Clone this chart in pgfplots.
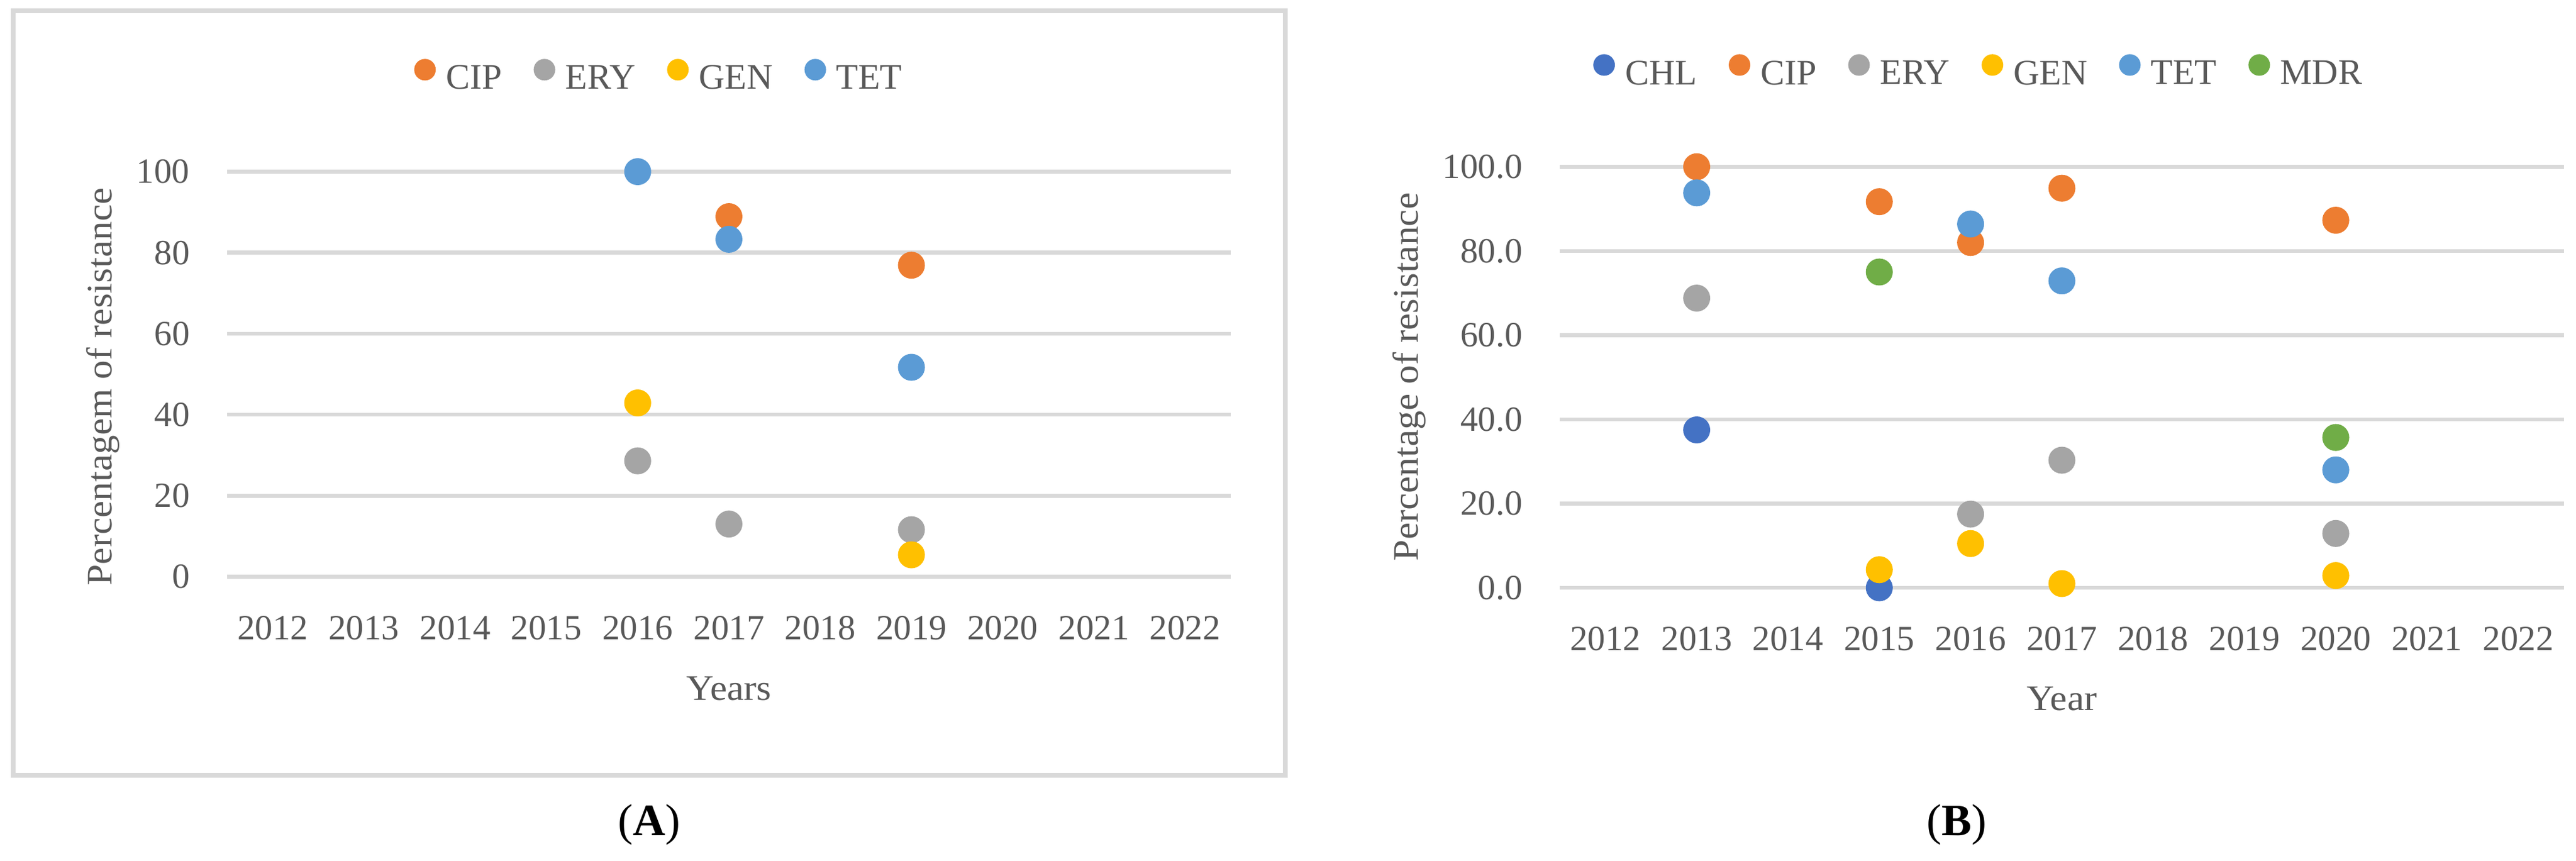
\documentclass[border=0pt]{standalone}
\usepackage{fontspec}
\setmainfont{Liberation Serif}
\newfontfamily\lblfont{Liberation Serif}[FakeStretch=1.06]
\usepackage{pgfplots}
\pgfplotsset{compat=1.18}
\definecolor{gridg}{HTML}{D9D9D9}
\definecolor{txtg}{HTML}{595959}
\definecolor{cCHL}{HTML}{4472C4}
\definecolor{cCIP}{HTML}{ED7D31}
\definecolor{cERY}{HTML}{A5A5A5}
\definecolor{cGEN}{HTML}{FFC000}
\definecolor{cTET}{HTML}{5B9BD5}
\definecolor{cMDR}{HTML}{70AD47}
\pgfplotsset{
  excel/.style={
    scale only axis,
    anchor=south west,
    clip=false,
    axis line style={draw=none},
    tick style={draw=none},
    major tick length=0pt,
    ymajorgrids,
    major grid style={color=gridg, line width=1.3pt},
    xmin=2011.5, xmax=2022.5,
    ymin=0, ymax=100,
    xtick={2012,2013,2014,2015,2016,2017,2018,2019,2020,2021,2022},
    xticklabels={2012,2013,2014,2015,2016,2017,2018,2019,2020,2021,2022},
    ytick={0,20,40,60,80,100},
    /pgf/number format/assume math mode=true,
    tick label style={text=txtg, inner sep=0pt, font=\fontsize{11.8}{14}\selectfont},
    xticklabel style={anchor=north, yshift=-12.9pt},
    yticklabel style={anchor=east, xshift=-12.3pt},
    label style={text=txtg, inner sep=0pt, font=\fontsize{12}{14}\selectfont\lblfont},
    legend style={draw=none, fill=none, inner sep=0pt, outer sep=0pt,
      anchor=center, text=txtg,
      nodes={inner sep=0pt},
      /tikz/every even column/.append style={column sep=10.6pt},
      /tikz/every odd column/.append style={column sep=3.4pt}},
    legend columns=-1,
    legend image code/.code={\fill (0pt,3.3pt) circle (3.4pt);},
  },
  pt/.style={only marks, mark=*, mark size=4.3pt, color=#1, mark options={draw=none, fill=#1}},
}
\begin{document}
\begin{tikzpicture}[font=\fontsize{12}{14}\selectfont, text=txtg]
\path[use as bounding box] (0pt,0pt) rectangle (859.8pt,287.2pt);
\draw[line width=1.6pt, color=gridg] (4.4pt,28.4pt) rectangle (429pt,283.6pt);
% Panel A
\begin{axis}[excel,
  at={(75.8pt,94.7pt)}, width=335pt, height=135.2pt,
  xlabel={Years},
  xlabel style={at={(axis description cs:0.5,0)}, anchor=north, yshift=-33.1pt},
  ylabel={Percentagem of resistance},
  ylabel style={at={(axis description cs:-0.1236,0.4689)}, anchor=center, rotate=0},
  legend style={at={(0.4295,1.2354)}},
]
\addplot[pt=cCIP] coordinates {(2017,88.9) (2019,76.9)};
\addlegendentry{CIP}
\addplot[pt=cERY] coordinates {(2016,28.6) (2017,13.0) (2019,11.6)};
\addlegendentry{ERY}
\addplot[pt=cGEN] coordinates {(2016,42.9) (2019,5.4)};
\addlegendentry{GEN}
\addplot[pt=cTET] coordinates {(2016,100.0) (2017,83.3) (2019,51.7)};
\addlegendentry{TET}
\end{axis}
% Panel B
\begin{axis}[excel,
  at={(520.6pt,91pt)}, width=335.2pt, height=140.54pt,
  yticklabels={0.0,20.0,40.0,60.0,80.0,100.0},
  xlabel={Year},
  xlabel style={at={(axis description cs:0.5,0)}, anchor=north, yshift=-32.8pt},
  ylabel={Percentage of resistance},
  ylabel style={at={(axis description cs:-0.1498,0.5009)}, anchor=center, rotate=0},
  legend style={at={(0.4162,1.226)}},
]
\addplot[pt=cCHL] coordinates {(2013,37.5) (2015,0.0)};
\addlegendentry{CHL}
\addplot[pt=cCIP] coordinates {(2013,100.0) (2015,91.7) (2016,82.0) (2017,94.9) (2020,87.3)};
\addlegendentry{CIP}
\addplot[pt=cERY] coordinates {(2013,68.8) (2016,17.5) (2017,30.3) (2020,12.9)};
\addlegendentry{ERY}
\addplot[pt=cGEN] coordinates {(2015,4.3) (2016,10.5) (2017,1.0) (2020,2.9)};
\addlegendentry{GEN}
\addplot[pt=cTET] coordinates {(2013,93.8) (2016,86.4) (2017,72.9) (2020,28.0)};
\addlegendentry{TET}
\addplot[pt=cMDR] coordinates {(2015,75.0) (2020,35.7)};
\addlegendentry{MDR}
\end{axis}
\node[anchor=base, font=\fontsize{15}{18}\selectfont, text=black] at (216.7pt,8.4pt) {(\textbf{A})};
\node[anchor=base, font=\fontsize{15}{18}\selectfont, text=black] at (653pt,8.4pt) {(\textbf{B})};
\end{tikzpicture}
\end{document}
